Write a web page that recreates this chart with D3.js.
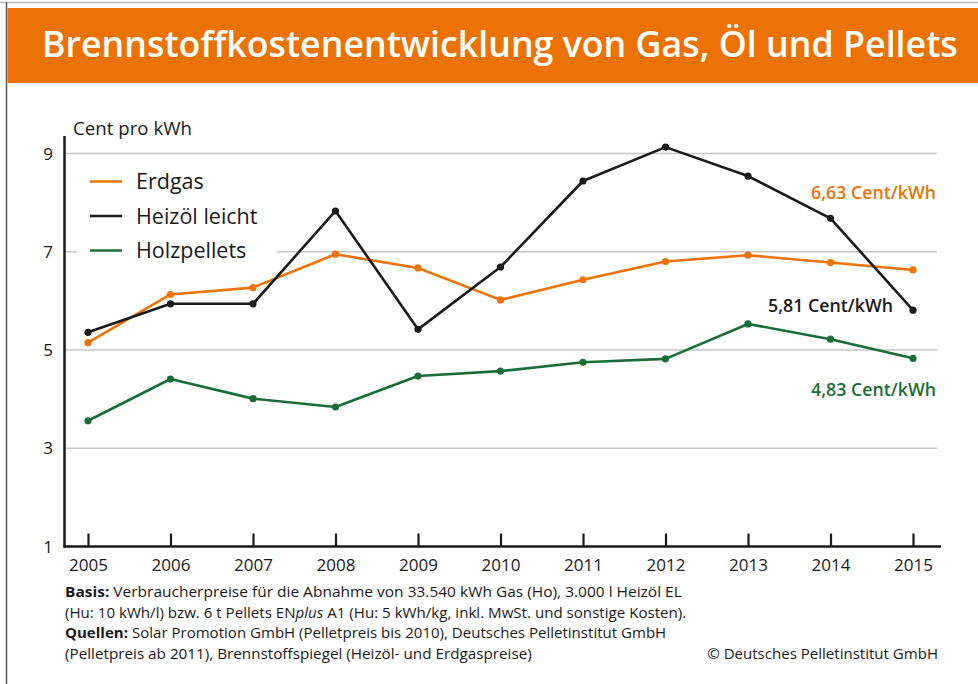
<!DOCTYPE html>
<html>
<head>
<meta charset="utf-8">
<script src="https://cdn.jsdelivr.net/npm/d3@7"></script>
<style>
  html, body { margin: 0; padding: 0; background: #fff; }
  svg { display: block; font-family: "Open Sans", sans-serif; }
</style>
</head>
<body>
<div id="chart"></div>
<script>
// data
const years = [2005, 2006, 2007, 2008, 2009, 2010, 2011, 2012, 2013, 2014, 2015];
const erdgas = [5.15, 6.13, 6.27, 6.95, 6.67, 6.02, 6.43, 6.80, 6.93, 6.78, 6.63];
const heizoel = [5.36, 5.94, 5.94, 7.83, 5.42, 6.69, 8.44, 9.13, 8.54, 7.68, 5.81];
const pellets = [3.56, 4.41, 4.01, 3.84, 4.47, 4.57, 4.75, 4.82, 5.53, 5.22, 4.83];
const yTicks = [1, 3, 5, 7, 9];
const seriesNames = ['Erdgas', 'Heizöl leicht', 'Holzpellets'];
const endLabels = ['6,63 Cent/kWh', '5,81 Cent/kWh', '4,83 Cent/kWh'];

const width = 978;
const height = 684;

const colors = ['#ec7304', '#1a1a1a', '#1b6d37'];

const svg = d3.select('#chart').append('svg')
  .attr('width', width)
  .attr('height', height);

// squeeze/stretch a text to a given width (the original uses a condensed face)
// x is the left edge, or the right edge when anchor is 'end'
function fit(sel, x, w, anchor) {
  sel.attr('x', 0).attr('text-anchor', anchor || 'start');
  const natural = sel.node().getComputedTextLength();
  const k = w / natural;
  const y = +sel.attr('y');
  sel.attr('y', 0)
     .attr('transform', `translate(${x},${y}) scale(${k},1)`);
  return sel;
}

// frame + title band
svg.append('line').attr('x1', 0).attr('x2', width).attr('y1', 2.5).attr('y2', 2.5)
  .attr('stroke', '#b9b9b9').attr('stroke-width', 1.5);
svg.append('line').attr('x1', 6.5).attr('x2', 6.5).attr('y1', 2).attr('y2', height)
  .attr('stroke', '#555').attr('stroke-width', 1.5);
svg.append('rect').attr('x', 7.5).attr('y', 8).attr('width', width - 7.5).attr('height', 75)
  .attr('fill', '#ec7203');
fit(svg.append('text')
  .attr('y', 57)
  .attr('fill', '#fff')
  .attr('font-size', 37).attr('font-weight', 600)
  .text('Brennstoffkostenentwicklung von Gas, Öl und Pellets'), 42, 916);

// scales
const x = d3.scaleLinear().domain([2005, 2015]).range([88, 913]);
const y = d3.scaleLinear().domain([1, 9]).range([546.5, 153.5]);
const axisX0 = 64.5, gridX1 = 937;

// gridlines
svg.append('g').selectAll('line')
  .data(yTicks.filter(d => d > 1))
  .join('line')
  .attr('x1', axisX0).attr('x2', gridX1)
  .attr('y1', d => y(d)).attr('y2', d => y(d))
  .attr('stroke', '#c6c6c6').attr('stroke-width', 1.5);

// y tick labels
svg.append('g').selectAll('text')
  .data(yTicks)
  .join('text')
  .attr('x', 53).attr('y', d => y(d)).attr('dy', '0.36em')
  .attr('text-anchor', 'end')
  .attr('font-size', 17).attr('fill', '#1a1a1a')
  .text(d => d);

fit(svg.append('text')
  .attr('y', 135)
  .attr('font-size', 17.5).attr('fill', '#1a1a1a')
  .text('Cent pro kWh'), 73, 119);

// axes
svg.append('line').attr('x1', axisX0).attr('x2', axisX0).attr('y1', 136).attr('y2', y(1) + 1.2)
  .attr('stroke', '#1a1a1a').attr('stroke-width', 2.5);

const xAxis = d3.axisBottom(x)
  .tickValues(years)
  .tickFormat(d3.format('d'))
  .tickSizeInner(-13)
  .tickSizeOuter(0)
  .tickPadding(12);

const gx = svg.append('g')
  .attr('transform', `translate(0,${y(1)})`)
  .call(xAxis);
gx.select('.domain').remove();
gx.append('line').attr('x1', axisX0 - 1).attr('x2', 941).attr('y1', 0).attr('y2', 0)
  .attr('stroke', '#1a1a1a').attr('stroke-width', 2.5);
gx.selectAll('.tick line').attr('stroke', '#1a1a1a').attr('stroke-width', 2.2);
gx.selectAll('.tick text')
  .attr('font-family', '"Open Sans", sans-serif')
  .attr('font-size', 17).attr('fill', '#1a1a1a')
  .attr('dy', '0.71em');

// legend (white box interrupts gridline)
svg.append('rect').attr('x', 77).attr('y', 165).attr('width', 200).attr('height', 100).attr('fill', '#fff');
const legend = svg.append('g').selectAll('g')
  .data(seriesNames)
  .join('g')
  .attr('transform', (d, i) => `translate(90,${181.5 + i * 34.5})`);
legend.append('line').attr('x1', 0).attr('x2', 32).attr('y1', 0).attr('y2', 0)
  .attr('stroke', (d, i) => colors[i]).attr('stroke-width', 2.5);
legend.append('text')
  .attr('x', 46).attr('y', 7.8)
  .attr('font-size', 21.5).attr('fill', '#1a1a1a')
  .text(d => d);

// lines
const seriesData = [erdgas, heizoel, pellets];
const line = d3.line()
  .x((d, i) => x(years[i]))
  .y(d => y(d));

seriesData.forEach((vals, s) => {
  svg.append('path')
    .datum(vals)
    .attr('d', line)
    .attr('fill', 'none')
    .attr('stroke', colors[s])
    .attr('stroke-width', 2.6)
    .attr('stroke-linejoin', 'round');
  svg.append('g').selectAll('circle')
    .data(vals)
    .join('circle')
    .attr('cx', (d, i) => x(years[i]))
    .attr('cy', d => y(d))
    .attr('r', 3.6)
    .attr('fill', colors[s]);
});

// end value labels
const labelPos = [
  { x: 936, y: 198.5 },
  { x: 893, y: 312 },
  { x: 936, y: 395.5 }
];
endLabels.forEach((t, i) => {
  fit(svg.append('text')
    .attr('y', labelPos[i].y)
    .attr('font-size', 18.5).attr('font-weight', 600)
    .attr('fill', colors[i])
    .text(t), labelPos[i].x, 125, 'end');
});

// footnote
const note = svg.append('g').attr('font-size', 14.5).attr('fill', '#1a1a1a');
const l1 = note.append('text').attr('y', 597);
l1.append('tspan').attr('font-weight', 700).text('Basis:');
l1.append('tspan').text(' Verbraucherpreise für die Abnahme von 33.540 kWh Gas (Ho), 3.000 l Heizöl EL');
fit(l1, 65, 617);

const l2 = note.append('text').attr('y', 617.5);
l2.append('tspan').text('(Hu: 10 kWh/l) bzw. 6 t Pellets EN');
l2.append('tspan').attr('font-style', 'italic').text('plus');
l2.append('tspan').text(' A1 (Hu: 5 kWh/kg, inkl. MwSt. und sonstige Kosten).');
fit(l2, 65, 622);

const l3 = note.append('text').attr('y', 638);
l3.append('tspan').attr('font-weight', 700).text('Quellen:');
l3.append('tspan').text(' Solar Promotion GmbH (Pelletpreis bis 2010), Deutsches Pelletinstitut GmbH');
fit(l3, 65, 602);

fit(note.append('text').attr('y', 658.5)
  .text('(Pelletpreis ab 2011), Brennstoffspiegel (Heizöl- und Erdgaspreise)'), 65, 467);

fit(note.append('text').attr('y', 659)
  .text('© Deutsches Pelletinstitut GmbH'), 938, 231, 'end');
</script>
</body>
</html>
